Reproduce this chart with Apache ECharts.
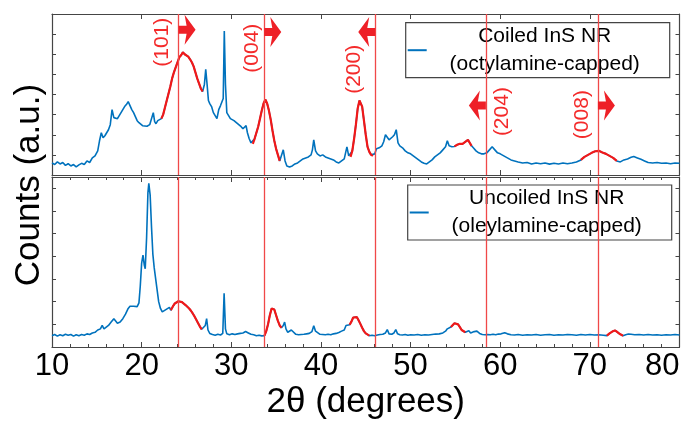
<!DOCTYPE html>
<html><head><meta charset="utf-8">
<script src="https://cdn.jsdelivr.net/npm/echarts@6/dist/echarts.min.js"></script>
<style>html,body{margin:0;padding:0;background:#fff}#c{width:687px;height:422px}</style>
</head><body><div id="c"></div>
<script>
// ---- data: 2θ (degrees), counts (a.u.) ----
const coiled = [
[10.0,0.10],[10.3,0.02],[10.6,0.15],[10.9,0.05],[11.2,0.12],[11.5,-0.02],[11.8,0.06],[12.1,-0.05],[12.4,0.02],[12.7,-0.10],
[13.0,0.00],[13.3,0.08],[13.6,0.02],[13.9,0.20],[14.2,0.12],[14.5,0.35],[14.8,0.45],[15.1,0.70],[15.3,1.20],[15.5,1.60],
[15.7,1.35],[15.9,1.45],[16.1,1.60],[16.3,1.75],[16.5,2.00],[16.7,2.75],[16.9,2.35],[17.1,2.40],[17.3,2.30],[17.5,2.45],
[17.7,2.60],[17.9,2.75],[18.1,2.90],[18.3,3.00],[18.5,3.15],[18.7,2.95],[18.9,2.75],[19.1,2.60],[19.3,2.40],[19.5,2.20],
[19.7,2.10],[19.9,2.05],[20.1,1.95],[20.3,2.00],[20.6,1.92],[20.9,2.00],[21.1,2.05],[21.3,2.60],[21.45,2.15],[21.6,2.05],
[21.8,2.20],[22.0,2.15],[22.2,2.30],[22.4,2.50],[22.6,2.85],[22.8,3.20],[23.0,3.55],[23.2,3.90],[23.4,4.30],[23.6,4.60],
[23.8,4.85],[24.0,5.10],[24.2,5.35],[24.4,5.45],[24.6,5.60],[24.8,5.50],[25.0,5.42],[25.2,5.38],[25.4,5.25],[25.6,5.10],
[25.8,4.90],[26.0,4.60],[26.2,4.30],[26.4,4.05],[26.6,3.80],[26.8,3.65],[27.0,4.00],[27.15,4.75],[27.3,4.00],[27.45,3.20],
[27.6,3.05],[27.8,2.90],[28.0,2.60],[28.2,2.55],[28.4,2.30],[28.6,2.75],[28.8,2.95],[29.0,2.95],[29.1,3.30],[29.22,6.65],
[29.35,4.00],[29.5,2.60],[29.7,2.45],[29.9,2.30],[30.1,2.35],[30.3,2.20],[30.5,2.15],[30.7,2.05],[30.9,2.00],[31.1,1.90],
[31.3,1.80],[31.5,1.85],[31.65,1.95],[31.8,1.60],[32.0,1.30],[32.2,1.10],[32.4,1.05],[32.6,1.30],[32.8,1.60],[33.0,1.90],
[33.2,2.30],[33.4,2.70],[33.6,3.05],[33.8,3.25],[34.0,3.05],[34.2,2.70],[34.4,2.25],[34.6,1.70],[34.8,1.20],[35.0,0.80],
[35.2,0.50],[35.4,0.20],[35.6,0.15],[35.8,0.75],[36.0,0.20],[36.2,-0.05],[36.5,-0.10],[36.8,-0.05],[37.1,0.05],[37.4,0.10],
[37.7,0.20],[38.0,0.30],[38.3,0.35],[38.6,0.40],[38.9,0.50],[39.05,0.75],[39.2,1.25],[39.4,0.70],[39.6,0.55],[39.9,0.45],
[40.2,0.50],[40.5,0.40],[40.8,0.35],[41.1,0.30],[41.4,0.25],[41.7,0.15],[42.0,0.10],[42.3,0.20],[42.6,0.30],[42.9,0.90],
[43.1,0.45],[43.3,0.40],[43.5,0.70],[43.7,1.30],[43.9,2.00],[44.1,2.80],[44.3,3.20],[44.45,3.25],[44.6,2.90],[44.8,2.20],
[45.0,1.50],[45.2,0.90],[45.4,0.65],[45.6,0.50],[45.8,0.45],[46.0,0.55],[46.2,0.80],[46.5,0.85],[46.8,0.95],[47.0,1.15],
[47.2,1.50],[47.4,1.55],[47.6,1.25],[47.8,1.30],[48.0,1.40],[48.2,1.50],[48.4,1.75],[48.6,1.10],[48.8,0.95],[49.1,0.85],
[49.4,0.70],[49.7,0.60],[50.0,0.55],[50.3,0.45],[50.6,0.35],[50.9,0.25],[51.2,0.15],[51.5,0.08],[51.8,0.05],[52.1,0.15],
[52.4,0.25],[52.7,0.40],[53.0,0.50],[53.3,0.60],[53.6,0.75],[53.9,0.90],[54.1,1.20],[54.3,0.95],[54.6,0.90],[54.9,0.92],
[55.2,1.00],[55.5,1.05],[55.8,1.05],[56.1,1.15],[56.4,1.25],[56.6,1.20],[56.8,0.95],[57.0,0.85],[57.3,0.70],[57.6,0.60],
[57.9,0.55],[58.2,0.55],[58.5,0.60],[58.8,0.75],[59.1,0.90],[59.4,0.75],[59.7,0.60],[60.0,0.55],[60.4,0.45],[60.8,0.35],
[61.2,0.25],[61.6,0.20],[62.0,0.15],[62.5,0.10],[63.0,0.12],[63.5,0.05],[64.0,0.10],[64.5,0.06],[65.0,0.10],[65.5,0.04],
[66.0,0.08],[66.5,0.05],[67.0,0.10],[67.5,0.06],[68.0,0.10],[68.5,0.15],[69.0,0.25],[69.4,0.40],[69.8,0.50],[70.2,0.60],
[70.6,0.68],[71.0,0.70],[71.4,0.62],[71.8,0.55],[72.2,0.45],[72.6,0.35],[73.0,0.20],[73.4,0.15],[73.8,0.25],[74.2,0.30],
[74.6,0.38],[74.9,0.42],[75.3,0.35],[75.7,0.28],[76.1,0.20],[76.5,0.12],[77.0,0.10],[77.5,0.12],[78.0,0.08],[78.5,0.10],
[79.0,0.06],[79.5,0.10],[80.0,0.08]
];
const uncoiled = [
[10.0,0.00],[10.3,0.05],[10.6,-0.02],[10.9,0.04],[11.2,0.00],[11.5,0.06],[11.8,0.02],[12.1,0.05],[12.4,-0.02],[12.7,0.04],
[13.0,0.00],[13.3,0.05],[13.6,0.02],[13.9,0.08],[14.2,0.05],[14.5,0.12],[14.8,0.15],[15.1,0.25],[15.4,0.30],[15.6,0.45],
[15.8,0.30],[16.0,0.30],[16.3,0.45],[16.6,0.60],[16.9,0.75],[17.1,0.65],[17.3,0.55],[17.6,0.60],[17.9,0.75],[18.2,0.95],
[18.5,1.20],[18.7,1.30],[18.9,1.35],[19.1,1.30],[19.3,1.30],[19.5,1.28],[19.7,1.45],[19.85,2.20],[20.0,3.20],[20.15,3.55],
[20.3,3.10],[20.4,2.95],[20.55,4.30],[20.7,6.30],[20.8,6.72],[20.95,6.20],[21.1,4.80],[21.25,3.60],[21.4,3.00],[21.55,2.55],
[21.7,2.10],[21.9,1.50],[22.1,1.20],[22.3,1.05],[22.5,1.05],[22.7,1.15],[22.9,1.10],[23.1,1.25],[23.25,1.12],[23.5,1.30],
[23.7,1.42],[23.9,1.48],[24.1,1.52],[24.3,1.52],[24.5,1.48],[24.7,1.42],[24.9,1.35],[25.1,1.30],[25.3,1.20],[25.5,1.10],
[25.7,0.98],[25.9,0.85],[26.1,0.70],[26.3,0.55],[26.5,0.40],[26.7,0.28],[26.9,0.30],[27.1,0.45],[27.25,0.75],[27.4,0.25],
[27.6,0.10],[27.9,0.05],[28.2,0.02],[28.5,0.06],[28.8,0.03],[29.05,0.10],[29.2,1.87],[29.35,0.30],[29.5,0.08],[29.8,0.04],
[30.1,0.08],[30.4,0.05],[30.7,0.08],[31.0,0.10],[31.3,0.12],[31.6,0.18],[31.9,0.12],[32.2,0.06],[32.5,0.04],[32.8,0.00],
[33.1,0.02],[33.4,-0.01],[33.7,0.00],[33.9,0.20],[34.1,0.50],[34.3,0.90],[34.5,1.20],[34.65,1.27],[34.8,1.15],[35.0,0.90],
[35.2,0.65],[35.4,0.45],[35.6,0.35],[35.8,0.45],[35.95,0.60],[36.1,0.30],[36.3,0.15],[36.5,0.20],[36.7,0.25],[36.9,0.18],
[37.2,0.06],[37.5,0.04],[37.8,0.05],[38.1,0.06],[38.4,0.08],[38.7,0.10],[39.0,0.18],[39.2,0.44],[39.4,0.20],[39.6,0.12],
[39.9,0.06],[40.2,0.05],[40.5,0.04],[40.8,0.06],[41.1,0.04],[41.4,0.08],[41.7,0.10],[42.0,0.14],[42.3,0.20],[42.6,0.25],
[42.8,0.45],[43.0,0.50],[43.2,0.48],[43.4,0.62],[43.6,0.80],[43.8,0.88],[44.0,0.82],[44.2,0.68],[44.4,0.52],[44.6,0.35],
[44.8,0.20],[45.0,0.10],[45.2,0.04],[45.4,0.00],[45.7,0.02],[46.0,0.00],[46.3,0.03],[46.6,0.05],[46.9,0.06],[47.2,0.12],
[47.4,0.27],[47.6,0.08],[47.9,0.06],[48.15,0.12],[48.35,0.27],[48.55,0.08],[48.8,0.04],[49.1,0.03],[49.4,0.05],[49.7,0.02],
[50.0,0.04],[50.4,0.03],[50.8,0.05],[51.2,0.02],[51.6,0.04],[52.0,0.03],[52.4,0.05],[52.8,0.07],[53.2,0.08],[53.6,0.12],
[53.9,0.20],[54.1,0.30],[54.3,0.36],[54.5,0.38],[54.7,0.45],[54.9,0.55],[55.1,0.60],[55.3,0.50],[55.5,0.38],[55.7,0.25],
[55.9,0.18],[56.1,0.15],[56.3,0.20],[56.5,0.22],[56.7,0.12],[56.9,0.15],[57.1,0.18],[57.4,0.20],[57.7,0.10],[58.0,0.05],
[58.3,0.04],[58.6,0.05],[58.9,0.04],[59.2,0.06],[59.5,0.04],[59.8,0.07],[60.1,0.08],[60.5,0.13],[60.8,0.08],[61.2,0.04],
[61.6,0.03],[62.0,0.05],[62.5,0.02],[63.0,0.04],[63.5,0.03],[64.0,0.05],[64.5,0.02],[65.0,0.04],[65.5,0.05],[66.0,0.02],
[66.5,0.04],[67.0,0.03],[67.5,0.05],[68.0,0.04],[68.5,0.02],[69.0,0.05],[69.5,0.03],[70.0,0.05],[70.5,0.03],[71.0,0.04],
[71.5,0.02],[71.9,0.00],[72.2,0.10],[72.5,0.18],[72.8,0.23],[73.1,0.15],[73.4,0.06],[73.7,0.00],[74.0,0.04],[74.3,0.07],
[74.6,0.06],[75.0,0.04],[75.5,0.05],[76.0,0.03],[76.5,0.05],[77.0,0.03],[77.5,0.04],[78.0,0.02],[78.5,0.04],[79.0,0.03],
[79.5,0.05],[80.0,0.03]
];
const coiledPeakRanges   = [[22.2,26.8],[32.3,35.5],[43.3,45.9],[54.9,56.8],[69.0,73.2]];
const uncoiledPeakRanges = [[23.25,26.7],[33.7,35.6],[43.2,45.4],[54.5,56.1],[71.9,73.7]];
const reflectionPos    = [24.12, 33.68, 46.06, 58.4, 70.9];
const reflectionLabels = ['(101)', '(004)', '(200)', '(204)', '(008)'];
const arrowDir   = ['right', 'right', 'left', 'left', 'right'];
const arrowY     = [6.72, 6.6, 6.6, 2.95, 2.95];
const labelX     = [22.3, 32.3, 43.7, 60.2, 69.1];
const labelY     = [6.1, 5.8, 4.75, 2.65, 2.5];
const xTickValues = [10, 20, 30, 40, 50, 60, 70, 80];
const legendTop    = ['Coiled InS NR', '(octylamine-capped)'];
const legendBottom = ['Uncoiled InS NR', '(oleylamine-capped)'];
const xTitle = '2θ (degrees)';
const yTitle = 'Counts (a.u.)';

// ---- styling ----
const FONT = 'Liberation Sans, Arial, Helvetica, sans-serif';
const BLUE = '#0072BD', RED = '#f21818', VLINE = '#f04848', FRAME = '#454545';
const ARROW_R = 'path://M0,11 L8,11 L6,0 L17,15 L6,30 L8,19 L0,19 Z';
const ARROW_L = 'path://M17,11 L9,11 L11,0 L0,15 L11,30 L9,19 L17,19 Z';

function segments(data, ranges) {
  return data.map(p => ranges.some(r => p[0] >= r[0] - 1e-9 && p[0] <= r[1] + 1e-9) ? p : [p[0], '-']);
}
const nameTop = legendTop.join(' '), nameBot = legendBottom.join(' ');

function xAxis(grid, pos, labels, minor) {
  return {
    type: 'value', gridIndex: grid, position: pos, min: xTickValues[0], max: xTickValues[xTickValues.length - 1],
    interval: xTickValues[1] - xTickValues[0],
    axisLine: { show: true, onZero: false, lineStyle: { color: FRAME, width: 1.2 } },
    axisTick: { show: true, inside: true, length: 5, lineStyle: { color: FRAME, width: 1 } },
    minorTick: { show: minor, splitNumber: 5, length: 3, lineStyle: { color: FRAME, width: 1 } },
    splitLine: { show: false },
    axisLabel: labels ? { show: true, fontSize: 31, color: '#000', fontFamily: FONT, margin: 4, alignMaxLabel: 'right' } : { show: false },
    name: labels ? xTitle : '', nameLocation: 'middle', nameGap: 38,
    nameTextStyle: { fontSize: 35, color: '#000', fontFamily: FONT }
  };
}
function yAxis(grid, pos, min, max) {
  return {
    type: 'value', gridIndex: grid, position: pos, min: min, max: max, interval: 1,
    axisLine: { show: true, onZero: false, lineStyle: { color: FRAME, width: 1.2 } },
    axisTick: { show: true, inside: true, length: 4, lineStyle: { color: FRAME, width: 1 } },
    splitLine: { show: false }, axisLabel: { show: false }
  };
}
function legend(name, lines, left, top) {
  return {
    data: [name], left: left, top: top, selectedMode: false, icon: 'rect', itemWidth: 19, itemHeight: 2,
    backgroundColor: '#fff', borderColor: '#444', borderWidth: 1.2, borderRadius: 0, padding: [3, 12, 3, 2],
    formatter: () => lines.map(t => '{t|' + t + '}').join('\n'),
    textStyle: { rich: { t: { fontSize: 21, fontFamily: FONT, color: '#000', width: 226, align: 'center', lineHeight: 28 } } }
  };
}
const vlines = {
  silent: true, symbol: ['none', 'none'], label: { show: false },
  lineStyle: { color: VLINE, width: 1.3, type: 'solid' },
  data: reflectionPos.map(x => ({ xAxis: x }))
};
const markers = reflectionPos.map((x, i) => ({
  coord: [x, arrowY[i]], symbol: arrowDir[i] === 'right' ? ARROW_R : ARROW_L, symbolSize: [17, 30],
  symbolOffset: [arrowDir[i] === 'right' ? 8.5 : -8.5, 0], itemStyle: { color: '#ee2027' }, label: { show: false }
})).concat(labelX.map((x, i) => ({
  coord: [x, labelY[i]], symbol: 'circle', symbolSize: 0,
  label: { show: true, position: 'inside', formatter: reflectionLabels[i], rotate: 90, fontSize: 21, color: '#f42a2a', fontFamily: FONT }
})));

const chart = echarts.init(document.getElementById('c'), null, { renderer: 'canvas' });
chart.setOption({
  animation: false,
  backgroundColor: '#fff',
  grid: [
    { left: 52, top: 14, width: 627.5, height: 161 },
    { left: 52, top: 177, width: 627.5, height: 170 }
  ],
  xAxis: [xAxis(0, 'bottom', false, false), xAxis(0, 'top', false, false), xAxis(1, 'bottom', true, true), xAxis(1, 'top', false, true)],
  yAxis: [yAxis(0, 'left', -0.5, 7.5), yAxis(0, 'right', -0.5, 7.5), yAxis(1, 'left', -0.5, 7), yAxis(1, 'right', -0.5, 7)],
  legend: [legend(nameTop, legendTop, 405.7, 22.7), legend(nameBot, legendBottom, 407.7, 185)],
  graphic: [{
    type: 'text', x: 29, y: 185, rotation: Math.PI / 2,
    style: { text: yTitle, font: '35px ' + FONT, fill: '#000', align: 'center', verticalAlign: 'middle' }
  }],
  series: [
    { type: 'line', name: nameTop, xAxisIndex: 0, yAxisIndex: 0, data: coiled, showSymbol: false, color: BLUE,
      lineStyle: { color: BLUE, width: 1.6 }, markLine: vlines, z: 2 },
    { type: 'line', name: 'coiled-peaks', xAxisIndex: 0, yAxisIndex: 0, data: segments(coiled, coiledPeakRanges), showSymbol: false,
      connectNulls: false, lineStyle: { color: RED, width: 2.2 }, itemStyle: { color: RED }, markPoint: { silent: true, data: markers }, z: 3 },
    { type: 'line', name: nameBot, xAxisIndex: 2, yAxisIndex: 2, data: uncoiled, showSymbol: false, color: BLUE,
      lineStyle: { color: BLUE, width: 1.6 }, markLine: vlines, z: 2 },
    { type: 'line', name: 'uncoiled-peaks', xAxisIndex: 2, yAxisIndex: 2, data: segments(uncoiled, uncoiledPeakRanges), showSymbol: false,
      connectNulls: false, lineStyle: { color: RED, width: 2.2 }, itemStyle: { color: RED }, z: 3 }
  ]
});
</script></body></html>
